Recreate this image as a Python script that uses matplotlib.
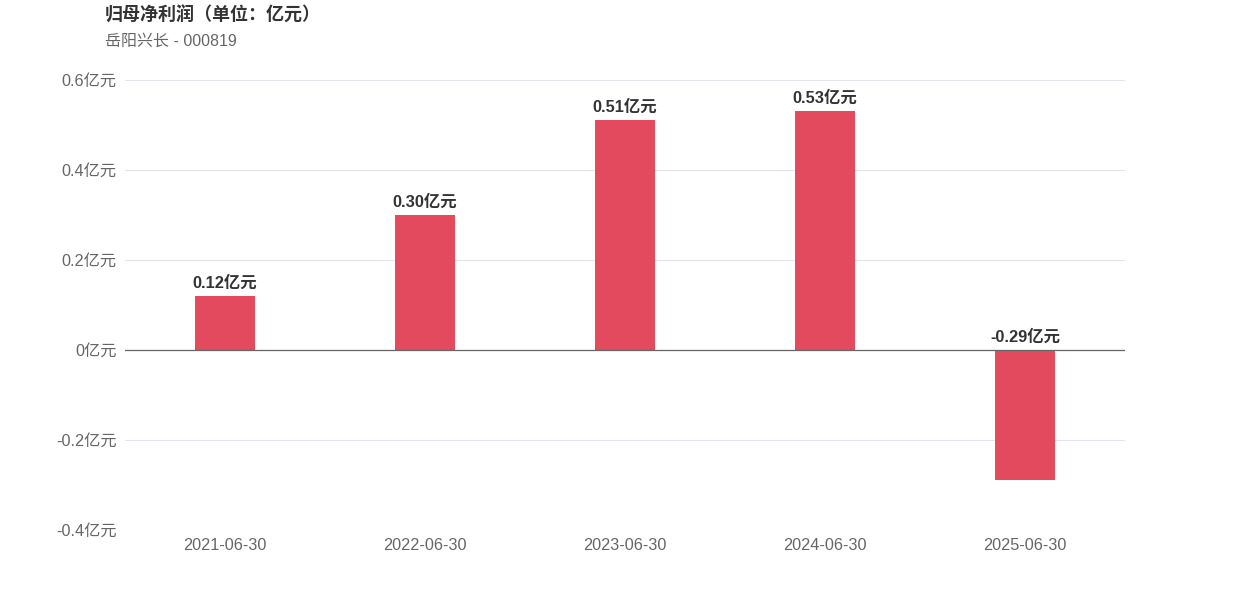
import matplotlib.pyplot as plt
import numpy as np

# 数据
dates = ["2021-06-30", "2022-06-30", "2023-06-30", "2024-06-30", "2025-06-30"]
profits = [0.12, 0.30, 0.51, 0.53, -0.29]
yticks = [-0.4, -0.2, 0, 0.2, 0.4, 0.6]
ytick_labels = ["-0.4亿元", "-0.2亿元", "0亿元", "0.2亿元", "0.4亿元", "0.6亿元"]

plt.rcParams['font.family'] = ['Liberation Sans', 'Noto Sans CJK SC', 'DejaVu Sans']

fig = plt.figure(figsize=(12.5, 6), dpi=100)
ax = fig.add_axes([0.1, 0.1167, 0.8, 0.75])

x = np.arange(len(dates))
bars = ax.bar(x, profits, width=0.3, color="#E34A5E", zorder=3)

# 柱顶数值
for xi, v in zip(x, profits):
    ax.text(xi, max(v, 0) + 0.012, f"{v:.2f}亿元", ha="center", va="bottom",
            fontsize=11.8, fontweight="bold", color="#333333")

ax.set_xlim(-0.5, len(dates) - 0.5)
ax.set_ylim(-0.4, 0.6)
ax.set_yticks(yticks)
ax.set_yticklabels(ytick_labels)
ax.set_xticks(x)
ax.set_xticklabels(dates)
ax.tick_params(length=0, labelsize=11.7, labelcolor="#666666")
ax.tick_params(axis="x", pad=6)
ax.tick_params(axis="y", pad=6)

ax.grid(axis="y", color="#E3E3EC", linewidth=0.8, zorder=0)
ax.axhline(0, color="#666666", linewidth=0.9, zorder=4)
for s in ax.spines.values():
    s.set_visible(False)

fig.text(0.084, 0.99, "归母净利润（单位：亿元）", fontsize=13, fontweight="bold",
         color="#333333", va="top")
fig.text(0.084, 0.943, "岳阳兴长 - 000819", fontsize=11.5, color="#666666", va="top")

fig.savefig("out.png", dpi=100)
